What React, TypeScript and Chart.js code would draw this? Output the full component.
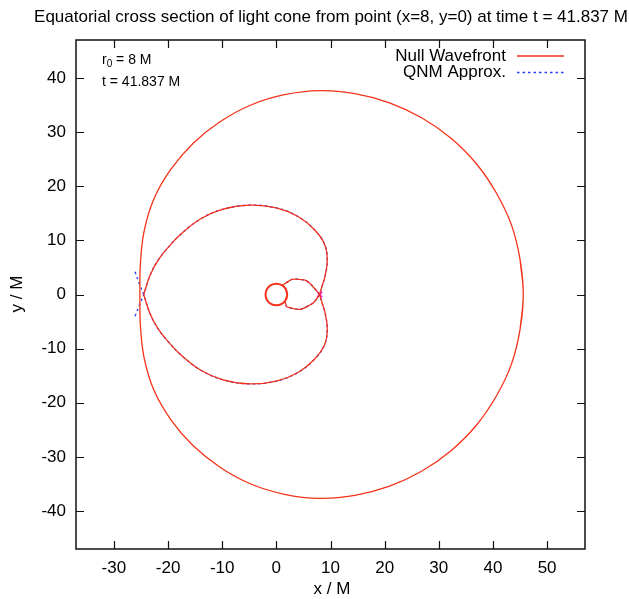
import React, { useEffect, useRef } from "react";
import { Chart, registerables } from "chart.js";
Chart.register(...registerables);

const FONT = "'Liberation Sans', Arial, Helvetica, sans-serif";

const titleText = "Equatorial cross section of light cone from point (x=8, y=0) at time t = 41.837 M";
const xTitle = "x / M";
const yTitle = "y / M";
const legendLabels = ["Null Wavefront", "QNM Approx."];
const xTicks = [-30, -20, -10, 0, 10, 20, 30, 40, 50];
const yTicks = [-40, -30, -20, -10, 0, 10, 20, 30, 40];

// Null wavefront: outer branch (closed, with small overlap at the seam)
const outerX = [45.0, 45.6, 45.0, 43.4, 40.6, 36.9, 32.2, 26.9, 20.9, 14.5, 8.0, 1.5, -4.7, -10.4, -15.4, -19.5, -22.6, -24.4, -25.1, -25.2,
  -25.1, -24.4, -22.6, -19.5, -15.4, -10.4, -4.7, 1.5, 8.0, 14.5, 20.9, 26.9, 32.2, 36.9, 40.6, 43.4, 45.0, 45.6, 45.0];
const outerY = [-6.5, 0, 6.5, 12.9, 18.8, 24.2, 28.9, 32.6, 35.4, 37.1, 37.65, 36.9, 35.0, 31.9, 27.9, 23.1, 17.7, 11.8, 5.8, 0,
  -5.8, -11.8, -17.7, -23.1, -27.9, -31.9, -35.0, -36.9, -37.65, -37.1, -35.4, -32.6, -28.9, -24.2, -18.8, -12.9, -6.5, 0, 6.5];

// Null wavefront: heart-shaped branch (upper and lower arcs)
const heartUpX = [-24.5, -23.3, -21.8, -19.8, -17.8, -14.1, -10.0, -5.0, 0.0, 4.0, 7.0, 8.9, 9.4, 9.0, 8.4, 8.0];
const heartUpY = [0, 3.6, 6.4, 8.9, 11.0, 13.9, 15.7, 16.5, 16.0, 14.4, 12.0, 9.3, 6.4, 3.4, 1.4, 0];
const heartLoX = [-24.5, -23.3, -21.8, -19.8, -17.8, -14.1, -10.0, -5.0, 0.0, 4.0, 7.0, 8.9, 9.4, 9.0, 8.4, 8.0];
const heartLoY = [0, -3.6, -6.4, -8.9, -11.0, -13.9, -15.7, -16.5, -16.0, -14.4, -12.0, -9.3, -6.4, -3.4, -1.4, 0];

// Null wavefront: small loops near the hole
const loopUpX = [8.0, 6.5, 5.3, 2.9, 1.2];
const loopUpY = [0, 1.75, 2.65, 2.8, 1.75];
const loopLoX = [8.0, 6.85, 4.4, 1.93, 1.62];
const loopLoY = [0, -1.53, -2.75, -2.27, -1.35];

// Horizon ring (r = 2 M)
const ringX = [1.73, 2.0, 1.73, 1.0, 0, -1.0, -1.73, -2.0, -1.73, -1.0, 0, 1.0, 1.73, 2.0, 1.73];
const ringY = [-1.0, 0, 1.0, 1.73, 2.0, 1.73, 1.0, 0, -1.0, -1.73, -2.0, -1.73, -1.0, 0, 1.0];

// QNM approximation (extends past the caustic on the left)
const qnmUpX = [-26.1, -25.3, -24.5, -23.3, -21.8, -19.8, -17.8, -14.1, -10.0, -5.0, 0.0, 4.0, 7.0, 8.9, 9.4, 9.0, 8.4, 8.0];
const qnmUpY = [-4.0, -2.0, 0, 3.6, 6.4, 8.9, 11.0, 13.9, 15.7, 16.5, 16.0, 14.4, 12.0, 9.3, 6.4, 3.4, 1.4, 0];
const qnmLoX = [-26.1, -25.3, -24.5, -23.3, -21.8, -19.8, -17.8, -14.1, -10.0, -5.0, 0.0, 4.0, 7.0, 8.9, 9.4, 9.0, 8.4, 8.0];
const qnmLoY = [4.2, 2.0, 0, -3.6, -6.4, -8.9, -11.0, -13.9, -15.7, -16.5, -16.0, -14.4, -12.0, -9.3, -6.4, -3.4, -1.4, 0];

// Emission point
const sourceX = [8];
const sourceY = [0];

const RED = "rgb(245,50,25)";
const BLUE = "rgb(40,60,255)";

function zip(xs: number[], ys: number[]) {
  return xs.map((x, i) => ({ x, y: ys[i] }));
}

function redSet(xs: number[], ys: number[], tension = 0.4, width = 1.3) {
  return {
    data: zip(xs, ys),
    showLine: true,
    borderColor: RED,
    borderWidth: width,
    pointRadius: 0,
    tension,
    fill: false,
  };
}

function blueSet(xs: number[], ys: number[], tension = 0.4) {
  return {
    data: zip(xs, ys),
    showLine: true,
    borderColor: BLUE,
    borderWidth: 1.3,
    borderDash: [2.5, 3],
    pointRadius: 0,
    tension,
    fill: false,
  };
}

const decor = {
  id: "decor",
  afterDraw(chart: any) {
    const ctx = chart.ctx;
    const a = chart.chartArea;
    const xs = chart.scales.x;
    const ys = chart.scales.y;
    ctx.save();
    ctx.strokeStyle = "#111";
    ctx.lineWidth = 1.5;
    ctx.strokeRect(a.left, a.top, a.right - a.left, a.bottom - a.top);
    ctx.lineWidth = 1.2;
    ctx.beginPath();
    xTicks.forEach((v) => {
      const px = Math.round(xs.getPixelForValue(v)) + 0.5;
      ctx.moveTo(px, a.bottom);
      ctx.lineTo(px, a.bottom - 8);
      ctx.moveTo(px, a.top);
      ctx.lineTo(px, a.top + 8);
    });
    yTicks.forEach((v) => {
      const py = Math.round(ys.getPixelForValue(v)) + 0.5;
      ctx.moveTo(a.left, py);
      ctx.lineTo(a.left + 8, py);
      ctx.moveTo(a.right, py);
      ctx.lineTo(a.right - 8, py);
    });
    ctx.stroke();

    ctx.fillStyle = "#000";
    ctx.font = `17px ${FONT}`;
    ctx.textAlign = "center";
    ctx.textBaseline = "middle";
    ctx.fillText(titleText, 331, 17);
    ctx.fillText(xTitle, 332, 589);
    ctx.save();
    ctx.translate(17.5, 294);
    ctx.rotate(-Math.PI / 2);
    ctx.fillText(yTitle, 0, 0);
    ctx.restore();

    ctx.textAlign = "right";
    ctx.fillText(legendLabels[0], 506, 56);
    ctx.fillText(legendLabels[1], 506, 72.5);
    ctx.lineWidth = 1.3;
    ctx.strokeStyle = RED;
    ctx.beginPath();
    ctx.moveTo(517, 56);
    ctx.lineTo(564, 56);
    ctx.stroke();
    ctx.strokeStyle = BLUE;
    ctx.setLineDash([2.5, 3]);
    ctx.beginPath();
    ctx.moveTo(517, 72.5);
    ctx.lineTo(564, 72.5);
    ctx.stroke();
    ctx.setLineDash([]);

    ctx.textAlign = "left";
    ctx.font = `14px ${FONT}`;
    let x = 102;
    ctx.fillText("r", x, 60);
    x += ctx.measureText("r").width;
    ctx.font = `10px ${FONT}`;
    ctx.fillText("0", x, 64);
    x += ctx.measureText("0").width;
    ctx.font = `14px ${FONT}`;
    ctx.fillText(" = 8 M", x, 60);
    ctx.fillText("t = 41.837 M", 102, 82);
    ctx.restore();
  },
};

export default function App() {
  const ref = useRef<HTMLCanvasElement | null>(null);
  useEffect(() => {
    document.body.style.margin = "0";
    const canvas = ref.current;
    if (!canvas) return;
    const chart = new Chart(canvas, {
      type: "scatter",
      data: {
        datasets: [
          redSet(outerX, outerY, 0.4),
          redSet(heartUpX, heartUpY, 0.4),
          redSet(heartLoX, heartLoY, 0.4),
          redSet(loopUpX, loopUpY, 0.2),
          redSet(loopLoX, loopLoY, 0.2),
          redSet(ringX, ringY, 0.4, 2),
          blueSet(qnmUpX, qnmUpY),
          blueSet(qnmLoX, qnmLoY),
          blueSet(loopUpX, loopUpY, 0.2),
          blueSet(loopLoX, loopLoY, 0.2),
          {
            data: zip(sourceX, sourceY),
            showLine: false,
            pointStyle: "crossRot",
            pointRadius: 3.5,
            borderColor: "rgb(255,0,255)",
            backgroundColor: "rgb(255,0,255)",
            borderWidth: 1.5,
          },
        ] as any,
      },
      options: {
        responsive: false,
        animation: false,
        layout: { padding: { left: 0, right: 44, top: 40, bottom: 0 } },
        plugins: {
          legend: { display: false },
          title: { display: false },
          tooltip: { enabled: false },
        },
        scales: {
          x: {
            type: "linear",
            min: -37,
            max: 57,
            afterFit: (s: any) => {
              s.height = 50;
            },
            grid: { display: false, drawTicks: false },
            border: { display: false },
            ticks: {
              stepSize: 10,
              includeBounds: false,
              autoSkip: false,
              maxRotation: 0,
              padding: 9,
              color: "#000",
              font: { family: FONT, size: 17 },
            },
          },
          y: {
            type: "linear",
            min: -47,
            max: 47,
            afterFit: (s: any) => {
              s.width = 76;
            },
            grid: { display: false, drawTicks: false },
            border: { display: false },
            ticks: {
              stepSize: 10,
              includeBounds: false,
              autoSkip: false,
              padding: 10,
              color: "#000",
              font: { family: FONT, size: 17 },
            },
          },
        },
      } as any,
      plugins: [decor],
    });
    return () => chart.destroy();
  }, []);
  return (
    <div style={{ position: "absolute", left: 0, top: 0, width: 629, height: 599, background: "#fff" }}>
      <canvas ref={ref} width={629} height={599} style={{ display: "block" }} />
    </div>
  );
}
